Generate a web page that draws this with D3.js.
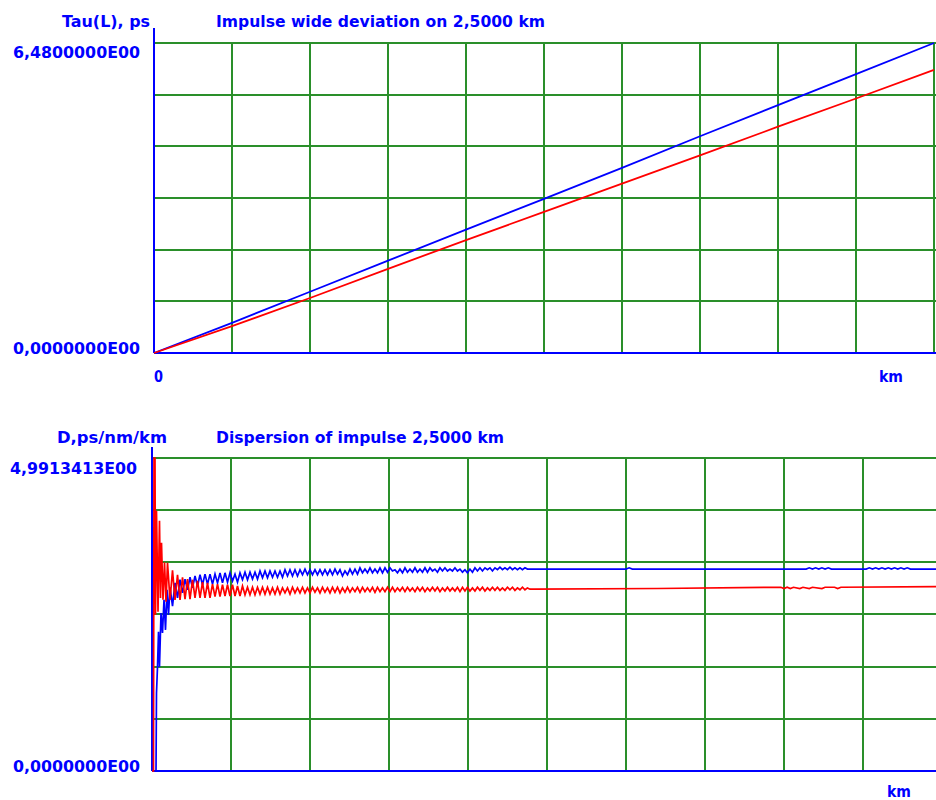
<!DOCTYPE html>
<html><head><meta charset="utf-8">
<script src="https://cdn.jsdelivr.net/npm/d3@7"></script>
<style>
body{margin:0;background:#fff}
svg{display:block}
text{font-family:"DejaVu Sans",Verdana,sans-serif;font-weight:bold;fill:#0000ff}
</style>
</head><body>
<svg id="c" width="936" height="800"></svg>
<script>
// ---------- data ----------
const gridKm = [0.25,0.5,0.75,1.0,1.25,1.5,1.75,2.0,2.25,2.5];
const tauGrid = [1.08,2.16,3.24,4.32,5.40,6.48];
const dispGrid = [0.8319,1.6638,2.4957,3.3276,4.1594,4.9913];

const tauKm   = [0,0.25,0.5,0.75,1.0,1.25,1.5,1.75,2.0,2.25,2.5];
const tauBlue = [0,0.63,1.28,1.93,2.58,3.22,3.87,4.53,5.18,5.83,6.48];
const tauRed  = [0,0.56,1.15,1.76,2.36,2.95,3.54,4.13,4.73,5.32,5.92];

const dispBlueHead = [[0,0],[0.0016,2.52],[0.0032,0],[0.0127,0],[0.0142,1.24],[0.0174,1.66],[0.0206,2.22],
  [0.0237,1.66],[0.0285,2.52],[0.0332,2.20],[0.0380,2.73],[0.0427,2.25],[0.0475,2.89],[0.0522,2.49]];
const dispRedHead = [[0,0],[0.0047,0],[0.0063,4.99],[0.0095,4.99],[0.0111,2.49],[0.0142,4.15],[0.0190,2.54],
  [0.0237,3.99],[0.0269,2.76],[0.0301,3.64],[0.0348,2.73],[0.0396,3.33],[0.0443,2.70],[0.0491,3.32]];

const rippleStartKm = 0.057;
const rippleStepKm = 0.00791;
const dispBlueRipple = [
  2.93,2.63,3.00,2.76,3.05,2.84,3.06,2.89,3.09,2.92,
  3.11,2.95,3.13,2.97,3.14,2.98,3.14,2.98,3.14,3.00,
  3.16,3.00,3.16,3.01,3.16,3.03,3.14,3.01,3.16,3.05,
  3.17,3.05,3.17,3.06,3.17,3.06,3.19,3.08,3.19,3.08,
  3.19,3.09,3.19,3.09,3.19,3.09,3.21,3.11,3.21,3.11,
  3.21,3.11,3.21,3.13,3.22,3.13,3.21,3.13,3.21,3.13,
  3.21,3.13,3.21,3.13,3.21,3.13,3.22,3.14,3.21,3.11,
  3.19,3.13,3.22,3.14,3.22,3.14,3.24,3.16,3.22,3.16,
  3.24,3.16,3.22,3.16,3.24,3.16,3.24,3.17,3.24,3.19,
  3.21,3.16,3.22,3.16,3.24,3.17,3.22,3.17,3.24,3.17,
  3.22,3.17,3.24,3.17,3.24,3.19,3.22,3.17,3.24,3.19,
  3.24,3.19,3.22,3.19,3.24,3.19,3.22,3.17,3.21,3.16,
  3.22,3.17,3.24,3.19,3.24,3.19,3.24,3.21,3.24,3.19,
  3.24,3.21,3.25,3.21,3.24,3.21,3.25,3.21,3.24,3.21,
  3.24,3.21,3.24,3.22,3.22];
const dispRedRipple = [
  2.73,3.20,2.73,3.13,2.73,3.09,2.74,3.06,2.74,3.05,
  2.76,3.03,2.76,3.01,2.76,3.00,2.76,2.98,2.78,2.98,
  2.78,2.97,2.79,2.97,2.79,2.97,2.79,2.95,2.79,2.95,
  2.81,2.93,2.81,2.93,2.81,2.93,2.82,2.93,2.82,2.93,
  2.82,2.92,2.82,2.93,2.82,2.92,2.84,2.92,2.82,2.93,
  2.84,2.92,2.84,2.93,2.84,2.92,2.84,2.93,2.85,2.92,
  2.84,2.93,2.85,2.92,2.84,2.93,2.85,2.93,2.84,2.92,
  2.85,2.93,2.85,2.92,2.86,2.93,2.85,2.93,2.86,2.92,
  2.86,2.93,2.85,2.93,2.86,2.92,2.86,2.93,2.86,2.93,
  2.86,2.92,2.87,2.93,2.86,2.93,2.87,2.92,2.86,2.93,
  2.87,2.93,2.86,2.92,2.87,2.93,2.87,2.93,2.86,2.92,
  2.87,2.93,2.87,2.92,2.87,2.93,2.86,2.93,2.87,2.93,
  2.87,2.92,2.87,2.93,2.88,2.93,2.87,2.92,2.88,2.93,
  2.88,2.93,2.88,2.92,2.88,2.93,2.89,2.93,2.88,2.92,
  2.89,2.93,2.89,2.92,2.90];

const dispBlueTail = [[1.21,3.22],[1.50,3.22],[1.51,3.24],[1.52,3.22],[1.80,3.22],[2.07,3.22],[2.08,3.24],
  [2.09,3.22],[2.10,3.24],[2.11,3.22],[2.12,3.24],[2.13,3.22],[2.14,3.24],[2.15,3.22],[2.26,3.22],[2.27,3.24],
  [2.28,3.22],[2.29,3.24],[2.30,3.22],[2.31,3.24],[2.32,3.22],[2.33,3.24],[2.34,3.22],[2.35,3.24],[2.36,3.22],
  [2.37,3.24],[2.38,3.22],[2.39,3.24],[2.40,3.22],[2.5,3.22]];
const dispRedTail = [[1.21,2.90],[1.60,2.91],[1.99,2.93],[2.00,2.91],[2.01,2.93],[2.02,2.91],[2.03,2.93],
  [2.05,2.91],[2.06,2.93],[2.08,2.91],[2.09,2.93],[2.12,2.91],[2.13,2.93],[2.16,2.93],[2.17,2.91],[2.18,2.93],
  [2.5,2.94]];

// ---------- layout ----------
const svg = d3.select("#c");
const BLUE = "#0000ff", RED = "#ff0000", GREEN = "#2a8f2a";

const xTop = d3.scaleLinear().domain([0,2.5]).range([154,934]);
const yTop = d3.scaleLinear().domain([0,6.48]).range([353,43]);
const xBot = d3.scaleLinear().domain([0,2.5]).range([152,942]);
const yBot = d3.scaleLinear().domain([0,4.9913413]).range([771,458]);

function panel(x, y, yGrid, axisTop) {
  const g = svg.append("g");
  const [x0] = x.range();
  const [y0] = y.range();
  g.selectAll("line.v").data(gridKm).join("line")
    .attr("x1", d=>Math.round(x(d))).attr("x2", d=>Math.round(x(d)))
    .attr("y1", y(yGrid[yGrid.length-1])).attr("y2", y0)
    .attr("stroke", GREEN).attr("stroke-width", 2);
  g.selectAll("line.h").data(yGrid).join("line")
    .attr("x1", x0).attr("x2", 936)
    .attr("y1", d=>Math.round(y(d))).attr("y2", d=>Math.round(y(d)))
    .attr("stroke", GREEN).attr("stroke-width", 2);
  g.append("line").attr("x1", x0).attr("x2", x0).attr("y1", axisTop).attr("y2", y0)
    .attr("stroke", BLUE).attr("stroke-width", 2);
  g.append("line").attr("x1", x0).attr("x2", 936).attr("y1", y0).attr("y2", y0)
    .attr("stroke", BLUE).attr("stroke-width", 2);
}
panel(xTop, yTop, tauGrid, 28);
panel(xBot, yBot, dispGrid, 447);

// ---------- series ----------
const lineTop = d3.line().x(d=>xTop(d[0])).y(d=>yTop(d[1]));
const lineBot = d3.line().x(d=>xBot(d[0])).y(d=>yBot(d[1]));

svg.append("path").datum(tauKm.map((k,i)=>[k,tauBlue[i]]))
  .attr("d", lineTop).attr("fill","none").attr("stroke",BLUE).attr("stroke-width",1.8);
svg.append("path").datum(tauKm.map((k,i)=>[k,tauRed[i]]))
  .attr("d", lineTop).attr("fill","none").attr("stroke",RED).attr("stroke-width",1.8);

const blueDisp = dispBlueHead
  .concat(dispBlueRipple.map((v,i)=>[rippleStartKm + i*rippleStepKm, v]))
  .concat(dispBlueTail);
const redDisp = dispRedHead
  .concat(dispRedRipple.map((v,i)=>[rippleStartKm + i*rippleStepKm, v]))
  .concat(dispRedTail);

svg.append("path").datum(blueDisp)
  .attr("d", lineBot).attr("fill","none").attr("stroke",BLUE).attr("stroke-width",1.7);
svg.append("path").datum(redDisp)
  .attr("d", lineBot).attr("fill","none").attr("stroke",RED).attr("stroke-width",1.7);

// ---------- text ----------
const labels = [
  {t:"Tau(L), ps", x:62, y:27, w:88},
  {t:"Impulse wide deviation on 2,5000 km", x:216, y:27, w:329},
  {t:"6,4800000E00", x:13, y:58, w:127},
  {t:"0,0000000E00", x:13, y:354, w:127},
  {t:"0", x:154, y:382, w:9},
  {t:"km", x:879, y:382, w:24},
  {t:"D,ps/nm/km", x:57, y:443, w:110},
  {t:"Dispersion of impulse 2,5000 km", x:216, y:443, w:288},
  {t:"4,9913413E00", x:10, y:474, w:127},
  {t:"0,0000000E00", x:13, y:772, w:127},
  {t:"km", x:887, y:797, w:24}
];
svg.selectAll("text.l").data(labels).join("text")
  .attr("x", d=>d.x).attr("y", d=>d.y)
  .attr("font-size", 16.3)
  .attr("textLength", d=>d.w).attr("lengthAdjust","spacingAndGlyphs")
  .text(d=>d.t);
</script>
</body></html>
